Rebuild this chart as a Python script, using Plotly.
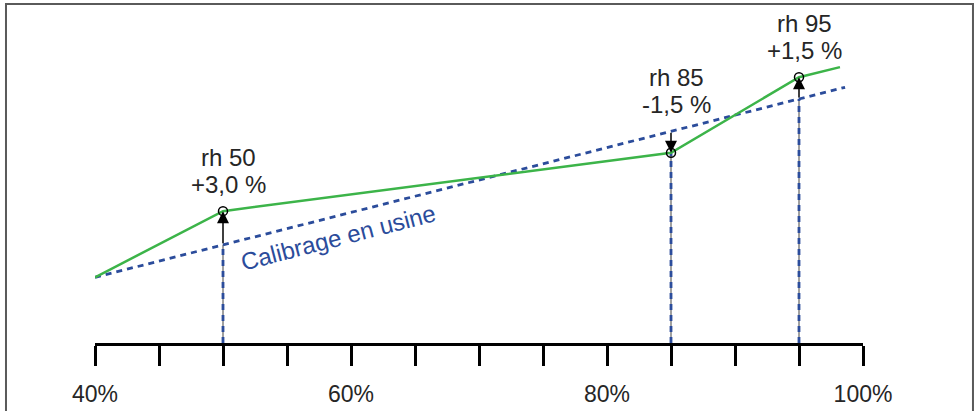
import plotly.graph_objects as go

# points de calibration (% HR) et valeurs mesurées (échelle schématique)
calib_x = [40, 98.6]
calib_y = [40, 98.6]

meas_x = [40, 50, 85, 95, 98.2]
meas_y = [40, 60.4, 78.4, 101.7, 104.8]

pt_x = [50, 85, 95]
pt_cal = [50, 85, 95]
pt_meas = [60.4, 78.4, 101.7]
pt_name = ["rh 50", "rh 85", "rh 95"]
pt_dev = ["+3,0 %", "-1,5 %", "+1,5 %"]

tick_vals = [40, 45, 50, 55, 60, 65, 70, 75, 80, 85, 90, 95, 100]
tick_text = ["40%", "", "", "", "60%", "", "", "", "80%", "", "", "", "100%"]

BLUE = "#2B4C9B"
GREEN = "#3CB449"
TXT = "#262626"
FONT = "Liberation Sans, Arial, sans-serif"

Y_MIN, Y_MAX = 19.74, 125.51

fig = go.Figure()

# verticales pointillées depuis l'axe
vx, vy = [], []
for x, c, m in zip(pt_x, pt_cal, pt_meas):
    vx += [x, x, None]
    vy += [Y_MIN, min(c, m), None]
fig.add_trace(go.Scatter(x=vx, y=vy, mode="lines",
                         line=dict(color="#808080", width=1.5), hoverinfo="skip"))
fig.add_trace(go.Scatter(x=vx, y=vy, mode="lines",
                         line=dict(color=BLUE, width=2.8, dash="6px,5px"), hoverinfo="skip"))

# calibrage en usine
fig.add_trace(go.Scatter(x=calib_x, y=calib_y, mode="lines",
                         line=dict(color=BLUE, width=2.8, dash="6px,5px")))

# courbe mesurée
fig.add_trace(go.Scatter(x=meas_x, y=meas_y, mode="lines",
                         line=dict(color=GREEN, width=2.5)))

# petits cercles
fig.add_trace(go.Scatter(x=pt_x, y=pt_meas, mode="markers",
                         marker=dict(symbol="circle-open", size=9, color="black",
                                     line=dict(width=1.5))))

# flèches et étiquettes
for x, c, m, name, dev in zip(pt_x, pt_cal, pt_meas, pt_name, pt_dev):
    fig.add_annotation(x=x, y=m, ax=x, ay=c, axref="x", ayref="y", xref="x", yref="y",
                       text="", showarrow=True, arrowhead=2, arrowsize=1.6,
                       arrowwidth=1.5, arrowcolor="black", standoff=0)
    for txt, dy in ((name, 54), (dev, 27)):
        fig.add_annotation(x=x, y=max(c, m), xref="x", yref="y",
                           text=txt, showarrow=False,
                           yanchor="middle", yshift=dy, xshift=5,
                           font=dict(size=24, color=TXT, family=FONT))

fig.add_annotation(x=59.0, y=52.4, xref="x", yref="y", text="Calibrage en usine",
                   showarrow=False, textangle=-14.5,
                   font=dict(size=24, color=BLUE, family=FONT))

# cadre
fig.add_shape(type="rect", xref="paper", yref="paper",
              x0=-0.1159, x1=1.1432, y0=-0.25, y1=0.9883,
              line=dict(color="#5a5a5a", width=2), layer="below")

fig.update_layout(
    width=977, height=411,
    margin=dict(l=95, r=114, t=0, b=68),
    paper_bgcolor="white", plot_bgcolor="white",
    showlegend=False,
    font=dict(family=FONT, color=TXT),
    xaxis=dict(range=[40, 100], showgrid=False, zeroline=False,
               showline=True, linecolor="black", linewidth=3,
               ticks="outside", ticklen=20, tickwidth=3, tickcolor="black",
               tickvals=tick_vals, ticktext=tick_text, ticklabelstandoff=8,
               tickfont=dict(size=23, color=TXT, family=FONT)),
    yaxis=dict(range=[Y_MIN, Y_MAX], visible=False),
)

fig.write_html("out.html", config={"displayModeBar": False},
               post_script="document.body.style.margin='0';")
